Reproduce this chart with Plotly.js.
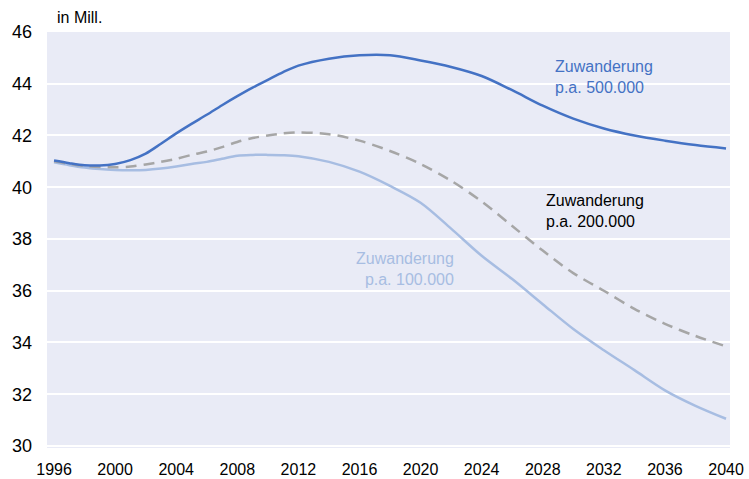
<!DOCTYPE html>
<html>
<head>
<meta charset="utf-8">
<script src="https://cdn.plot.ly/plotly-3.0.1.min.js"></script>
<style>html,body{margin:0;padding:0;background:#fff;}#chart{width:749px;height:479px;}</style>
</head>
<body>
<div id="chart"></div>
<script>
const years = [1996,1997,1998,1999,2000,2001,2002,2003,2004,2005,2006,2007,2008,2009,2010,2011,2012,2014,2016,2018,2020,2022,2024,2026,2028,2030,2032,2034,2036,2038,2040];
const zuw500 = [41.03,40.93,40.85,40.84,40.9,41.05,41.3,41.68,42.08,42.45,42.8,43.17,43.52,43.85,44.15,44.45,44.7,44.97,45.1,45.1,44.9,44.65,44.3,43.75,43.15,42.65,42.27,42.0,41.8,41.63,41.5];
const zuw200 = [41.0,40.9,40.82,40.78,40.77,40.8,40.88,40.98,41.1,41.25,41.38,41.55,41.75,41.9,42.0,42.08,42.12,42.05,41.8,41.4,40.9,40.25,39.45,38.5,37.55,36.68,36.0,35.3,34.72,34.25,33.85];
const zuw100 = [40.96,40.85,40.76,40.7,40.67,40.66,40.67,40.72,40.8,40.9,40.98,41.1,41.22,41.25,41.25,41.24,41.2,40.98,40.6,40.05,39.4,38.4,37.35,36.45,35.48,34.52,33.7,32.93,32.15,31.55,31.05];
const xTicks = [1996,2000,2004,2008,2012,2016,2020,2024,2028,2032,2036,2040];
const yTicks = [30,32,34,36,38,40,42,44,46];
const labels = {
  z500: "Zuwanderung<br>p.a. 500.000",
  z200: "Zuwanderung<br>p.a. 200.000",
  z100: "Zuwanderung<br>p.a. 100.000",
  unit: "in Mill."
};
const cDark = "#4472C4", cLight = "#A7BDE2", cGray = "#A6A6A6";
const font = "Liberation Sans, Arial, sans-serif";

const traces = [
  {x: years, y: zuw100, mode: "lines", line: {color: cLight, width: 2.5, shape: "spline", smoothing: 0.9}, hoverinfo: "skip"},
  {x: years, y: zuw200, mode: "lines", line: {color: cGray, width: 2.5, dash: "11px,7px", shape: "spline", smoothing: 0.9}, hoverinfo: "skip"},
  {x: years, y: zuw500, mode: "lines", line: {color: cDark, width: 2.5, shape: "spline", smoothing: 0.9}, hoverinfo: "skip"}
];

const L = 47, R = 19, T = 32, B = 31, W = 749, H = 479;
const layout = {
  width: W, height: H,
  margin: {l: L, r: R, t: T, b: B, pad: 0},
  paper_bgcolor: "#ffffff",
  plot_bgcolor: "#E9EBF6",
  showlegend: false,
  font: {family: font, color: "#000000"},
  xaxis: {
    range: [1995.54, 2040.26],
    tickvals: xTicks, ticktext: xTicks.map(String),
    showgrid: false, zeroline: false, showline: false,
    ticks: "", tickfont: {size: 16, color: "#000"},
    ticklabelstandoff: 10
  },
  yaxis: {
    range: [29.92, 46.0],
    tickvals: yTicks, ticktext: yTicks.map(String),
    showgrid: true, gridcolor: "#ffffff", gridwidth: 2,
    zeroline: false, showline: false,
    ticks: "", tickfont: {size: 18, color: "#000"},
    ticklabelstandoff: 14
  },
  annotations: [
    {x: 2028.7, y: 44.28, xref: "x", yref: "y", text: labels.z500, showarrow: false, xanchor: "left", yanchor: "middle", align: "left", font: {size: 16, color: cDark, family: font}},
    {x: 2028.1, y: 39.1, xref: "x", yref: "y", text: labels.z200, showarrow: false, xanchor: "left", yanchor: "middle", align: "left", font: {size: 16, color: "#000", family: font}},
    {x: 2022.35, y: 36.84, xref: "x", yref: "y", text: labels.z100, showarrow: false, xanchor: "right", yanchor: "middle", align: "right", font: {size: 16, color: cLight, family: font}},
    {x: (55 - L) / (W - L - R), y: 1 + (T - 18) / (H - T - B), xref: "paper", yref: "paper", text: labels.unit, showarrow: false, xanchor: "left", yanchor: "middle", font: {size: 16, color: "#000", family: font}}
  ]
};

Plotly.newPlot("chart", traces, layout, {staticPlot: true, displayModeBar: false});
</script>
</body>
</html>
